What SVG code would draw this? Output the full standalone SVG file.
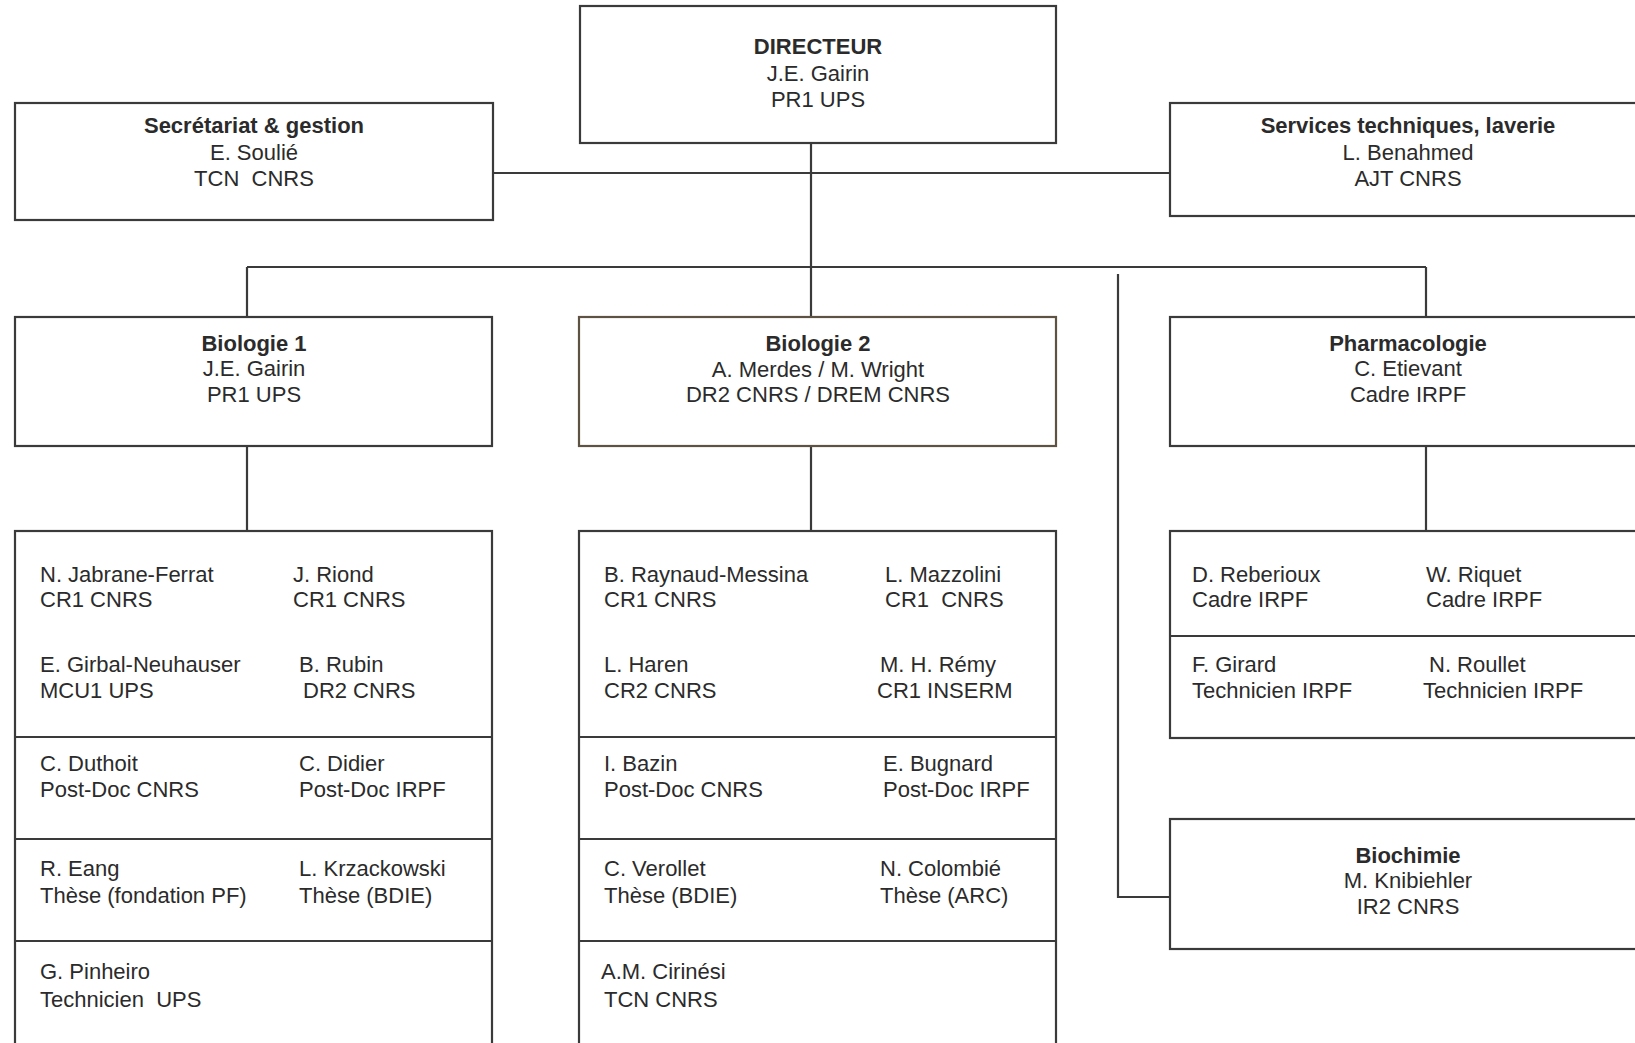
<svg xmlns="http://www.w3.org/2000/svg" width="1635" height="1043" viewBox="0 0 1635 1043">
<style>
.box{fill:#fff;stroke:#3a3a3a;stroke-width:2.2}
.box2{fill:#fff;stroke:#5e5242;stroke-width:2.2}
.div{stroke:#3a3a3a;stroke-width:2.2;fill:none}
.con{stroke:#3a3a3a;stroke-width:2.2;fill:none}
text{font-family:"Liberation Sans",Arial,sans-serif;font-size:22px;fill:#2b2b2b;white-space:pre}
.t{font-weight:bold;text-anchor:middle}
.c{text-anchor:middle}
</style>
<rect width="1635" height="1043" fill="#fff"/>
<g id="connectors">
<line class="con" x1="811" y1="143" x2="811" y2="317"/>
<line class="con" x1="493" y1="173" x2="1170" y2="173"/>
<line class="con" x1="247" y1="267" x2="1426" y2="267"/>
<line class="con" x1="247" y1="267" x2="247" y2="317"/>
<line class="con" x1="1426" y1="267" x2="1426" y2="317"/>
<line class="con" x1="247" y1="446" x2="247" y2="531"/>
<line class="con" x1="811" y1="446" x2="811" y2="531"/>
<line class="con" x1="1426" y1="446" x2="1426" y2="531"/>
<polyline class="con" points="1118,274 1118,897 1170,897"/>
</g>
<g id="directeur">
<rect class="box" x="580" y="6" width="476" height="137"/>
<text class="t" x="818" y="54">DIRECTEUR</text>
<text class="c" x="818" y="81">J.E. Gairin</text>
<text class="c" x="818" y="107">PR1 UPS</text>
</g>
<g id="secretariat">
<rect class="box" x="15" y="103" width="478" height="117"/>
<text class="t" x="254" y="133">Secrétariat &amp; gestion</text>
<text class="c" x="254" y="160">E. Soulié</text>
<text class="c" x="254" y="186">TCN  CNRS</text>
</g>
<g id="services">
<rect class="box" x="1170" y="103" width="476" height="113"/>
<text class="t" x="1408" y="133">Services techniques, laverie</text>
<text class="c" x="1408" y="160">L. Benahmed</text>
<text class="c" x="1408" y="186">AJT CNRS</text>
</g>
<g id="biologie1">
<rect class="box" x="15" y="317" width="477" height="129"/>
<text class="t" x="254" y="351">Biologie 1</text>
<text class="c" x="254" y="376">J.E. Gairin</text>
<text class="c" x="254" y="402">PR1 UPS</text>
</g>
<g id="biologie2">
<rect class="box2" x="579" y="317" width="477" height="129"/>
<text class="t" x="818" y="351">Biologie 2</text>
<text class="c" x="818" y="377">A. Merdes / M. Wright</text>
<text class="c" x="818" y="402">DR2 CNRS / DREM CNRS</text>
</g>
<g id="pharmacologie">
<rect class="box" x="1170" y="317" width="476" height="129"/>
<text class="t" x="1408" y="351">Pharmacologie</text>
<text class="c" x="1408" y="376">C. Etievant</text>
<text class="c" x="1408" y="402">Cadre IRPF</text>
</g>
<g id="biologie1-membres">
<rect class="box" x="15" y="531" width="477" height="530"/>
<line class="div" x1="15" y1="737" x2="492" y2="737"/>
<line class="div" x1="15" y1="839" x2="492" y2="839"/>
<line class="div" x1="15" y1="941" x2="492" y2="941"/>
<text x="40" y="582">N. Jabrane-Ferrat</text>
<text x="40" y="607">CR1 CNRS</text>
<text x="293" y="582">J. Riond</text>
<text x="293" y="607">CR1 CNRS</text>
<text x="40" y="672">E. Girbal-Neuhauser</text>
<text x="40" y="698">MCU1 UPS</text>
<text x="299" y="672">B. Rubin</text>
<text x="303" y="698">DR2 CNRS</text>
<text x="40" y="771">C. Duthoit</text>
<text x="40" y="797">Post-Doc CNRS</text>
<text x="299" y="771">C. Didier</text>
<text x="299" y="797">Post-Doc IRPF</text>
<text x="40" y="876">R. Eang</text>
<text x="40" y="903">Thèse (fondation PF)</text>
<text x="299" y="876">L. Krzackowski</text>
<text x="299" y="903">Thèse (BDIE)</text>
<text x="40" y="979">G. Pinheiro</text>
<text x="40" y="1007">Technicien  UPS</text>
</g>
<g id="biologie2-membres">
<rect class="box" x="579" y="531" width="477" height="530"/>
<line class="div" x1="579" y1="737" x2="1056" y2="737"/>
<line class="div" x1="579" y1="839" x2="1056" y2="839"/>
<line class="div" x1="579" y1="941" x2="1056" y2="941"/>
<text x="604" y="582">B. Raynaud-Messina</text>
<text x="604" y="607">CR1 CNRS</text>
<text x="885" y="582">L. Mazzolini</text>
<text x="885" y="607">CR1  CNRS</text>
<text x="604" y="672">L. Haren</text>
<text x="604" y="698">CR2 CNRS</text>
<text x="880" y="672">M. H. Rémy</text>
<text x="877" y="698">CR1 INSERM</text>
<text x="604" y="771">I. Bazin</text>
<text x="604" y="797">Post-Doc CNRS</text>
<text x="883" y="771">E. Bugnard</text>
<text x="883" y="797">Post-Doc IRPF</text>
<text x="604" y="876">C. Verollet</text>
<text x="604" y="903">Thèse (BDIE)</text>
<text x="880" y="876">N. Colombié</text>
<text x="880" y="903">Thèse (ARC)</text>
<text x="601" y="979">A.M. Cirinési</text>
<text x="604" y="1007">TCN CNRS</text>
</g>
<g id="pharmacologie-membres">
<rect class="box" x="1170" y="531" width="476" height="207"/>
<line class="div" x1="1170" y1="636" x2="1646" y2="636"/>
<text x="1192" y="582">D. Reberioux</text>
<text x="1192" y="607">Cadre IRPF</text>
<text x="1426" y="582">W. Riquet</text>
<text x="1426" y="607">Cadre IRPF</text>
<text x="1192" y="672">F. Girard</text>
<text x="1192" y="698">Technicien IRPF</text>
<text x="1429" y="672">N. Roullet</text>
<text x="1423" y="698">Technicien IRPF</text>
</g>
<g id="biochimie">
<rect class="box" x="1170" y="819" width="476" height="130"/>
<text class="t" x="1408" y="863">Biochimie</text>
<text class="c" x="1408" y="888">M. Knibiehler</text>
<text class="c" x="1408" y="914">IR2 CNRS</text>
</g>
</svg>
